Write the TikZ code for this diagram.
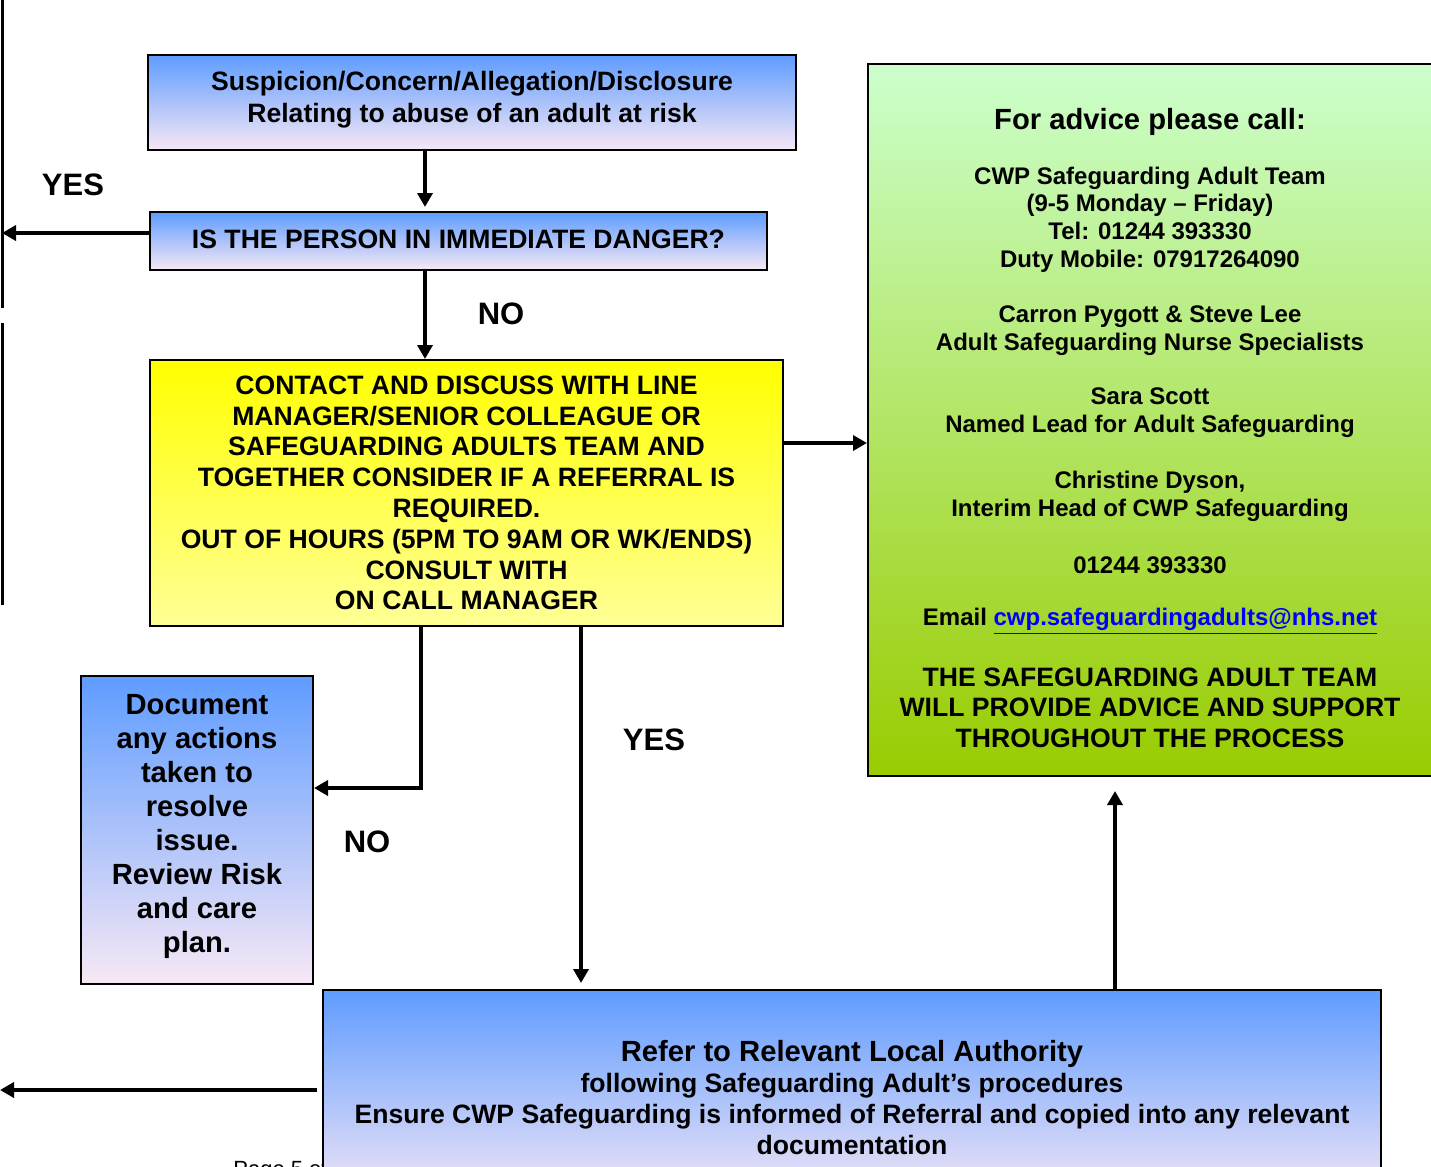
\documentclass[tikz,border=0pt]{standalone}
\usepackage{fontspec}
\setmainfont{Liberation Sans}
\usetikzlibrary{arrows.meta,calc}
\definecolor{cBlueTop}{RGB}{94,156,255}
\definecolor{cPinkBot}{RGB}{248,232,245}
\definecolor{cYelTop}{RGB}{255,255,0}
\definecolor{cYelBot}{RGB}{255,255,150}
\definecolor{cGrTop}{RGB}{204,255,204}
\definecolor{cGrBot}{RGB}{153,204,0}
\definecolor{cLink}{RGB}{0,0,255}
\begin{document}
\begin{tikzpicture}[x=0.5pt,y=-0.5pt,
  box/.style={draw=black,line width=1pt,inner sep=0pt,align=center},
  bluebox/.style={box,top color=cBlueTop,bottom color=cPinkBot},
  conn/.style={line width=2pt,-{Triangle[length=7pt,width=7.5pt]}},
  lbl/.style={font=\fontsize{15.5}{18}\selectfont\bfseries,inner sep=0pt},
  txt/.style={align=center,inner sep=0pt},
  gtext/.style={align=center,inner sep=0pt,font=\fontsize{12}{13.85}\selectfont\bfseries}]
\useasboundingbox (0,0) rectangle (1431,1167);
\clip (0,0) rectangle (1431,1167);
% left margin lines
\draw[line width=1.5pt] (2,0) -- (2,308);
\draw[line width=1.5pt] (2,323) -- (2,605);
\coordinate (lA) at (2,233);
\coordinate (lB) at (0,1090);
% page footer (partly hidden)
\node[anchor=north west,inner sep=0pt,font=\fontsize{11}{13}\selectfont] (pg) at (233,1160) {Page 5 of};
% boxes
\node[bluebox,minimum width=324pt,minimum height=47.5pt] (top) at (472,102.5) {};
\node[txt,font=\fontsize{13.3}{16}\selectfont\bfseries] (toptext) at (472,100)
  {Suspicion/Concern/Allegation/Disclosure\\Relating to abuse of an adult at risk};
\node[bluebox,minimum width=308.5pt,minimum height=29pt] (danger) at (458.5,241) {};
\node[txt,font=\fontsize{13.3}{16}\selectfont\bfseries] (dangertext) at (458.5,239)
  {IS THE PERSON IN IMMEDIATE DANGER?};
\node[box,top color=cYelTop,bottom color=cYelBot,minimum width=316.5pt,minimum height=133pt,font=\fontsize{13.3}{15.4}\selectfont\bfseries] (yellow) at (466.5,493)
  {CONTACT AND DISCUSS WITH LINE\\MANAGER/SENIOR COLLEAGUE OR\\SAFEGUARDING ADULTS TEAM AND\\TOGETHER CONSIDER IF A REFERRAL IS\\REQUIRED.\\OUT OF HOURS (5PM TO 9AM OR WK/ENDS)\\CONSULT WITH\\ON CALL MANAGER};
\node[box,top color=cGrTop,bottom color=cGrBot,minimum width=284pt,minimum height=356pt] (green) at (1152,420) {};
\node[bluebox,minimum width=116pt,minimum height=154pt] (doc) at (197,830) {};
\node[txt,font=\fontsize{14.6}{17}\selectfont\bfseries] (doctext) at (197,826)
  {Document\\any actions\\taken to\\resolve\\issue.\\Review Risk\\and care\\plan.};
\node[bluebox,minimum width=529pt,minimum height=108pt] (refer) at (852,1098) {};
\node[txt,font=\fontsize{13.3}{15.5}\selectfont\bfseries] (refertext) at (852,1098)
  {{\fontsize{14.6}{16}\selectfont Refer to Relevant Local Authority}\\following Safeguarding Adult’s procedures\\Ensure CWP Safeguarding is informed of Referral and copied into any relevant\\documentation};
% green box texts
\node[gtext,font=\fontsize{14.6}{17}\selectfont\bfseries] (gtitle) at (1150,122) {For advice please call:};
\node[gtext] (g1) at (1150,219.5) {CWP Safeguarding Adult Team\\(9-5 Monday – Friday)\\Tel: 01244 393330\\Duty Mobile: 07917264090};
\node[gtext] (g2) at (1150,330.5) {Carron Pygott \& Steve Lee\\Adult Safeguarding Nurse Specialists};
\node[gtext] (g3) at (1150,413) {Sara Scott\\Named Lead for Adult Safeguarding};
\node[gtext] (g4) at (1150,496) {Christine Dyson,\\Interim Head of CWP Safeguarding};
\node[gtext] (g5) at (1150,565) {01244 393330};
\node[gtext] (g6) at (1150,621) {Email {\color{cLink}\underline{cwp.safeguardingadults@nhs.net}}};
\node[gtext,font=\fontsize{13.3}{15.25}\selectfont\bfseries] (g7) at (1150,707.5) {THE SAFEGUARDING ADULT TEAM\\WILL PROVIDE ADVICE AND SUPPORT\\THROUGHOUT THE PROCESS};
% connector coordinates
\coordinate (c1) at (425,0);
\coordinate (c2) at (0,443);
\coordinate (c3) at (421,0);
\coordinate (c4) at (0,788);
\coordinate (c5) at (581,0);
\coordinate (c6) at (1115,0);
% connectors
\draw[conn,shorten >=2pt] (top.south -| c1) -- (danger.north -| c1);
\draw[conn] (danger.south -| c1) -- (yellow.north -| c1);
\draw[conn] (danger.west |- lA) -- (lA);
\draw[conn] (yellow.east |- c2) -- (green.west |- c2);
\draw[conn] (yellow.south -| c3) |- (doc.east |- c4);
\draw[conn,shorten >=3pt] (yellow.south -| c5) -- (refer.north -| c5);
\draw[conn,shorten >=7pt] (refer.north -| c6) -- (green.south -| c6);
\draw[conn,shorten <=2.5pt] (refer.west |- lB) -- (lB);
% labels
\node[lbl] (yes1) at (73,185) {YES};
\node[lbl] (no1) at (501,314) {NO};
\node[lbl] (yes2) at (654,740) {YES};
\node[lbl] (no2) at (367,842) {NO};
\end{tikzpicture}
\end{document}
